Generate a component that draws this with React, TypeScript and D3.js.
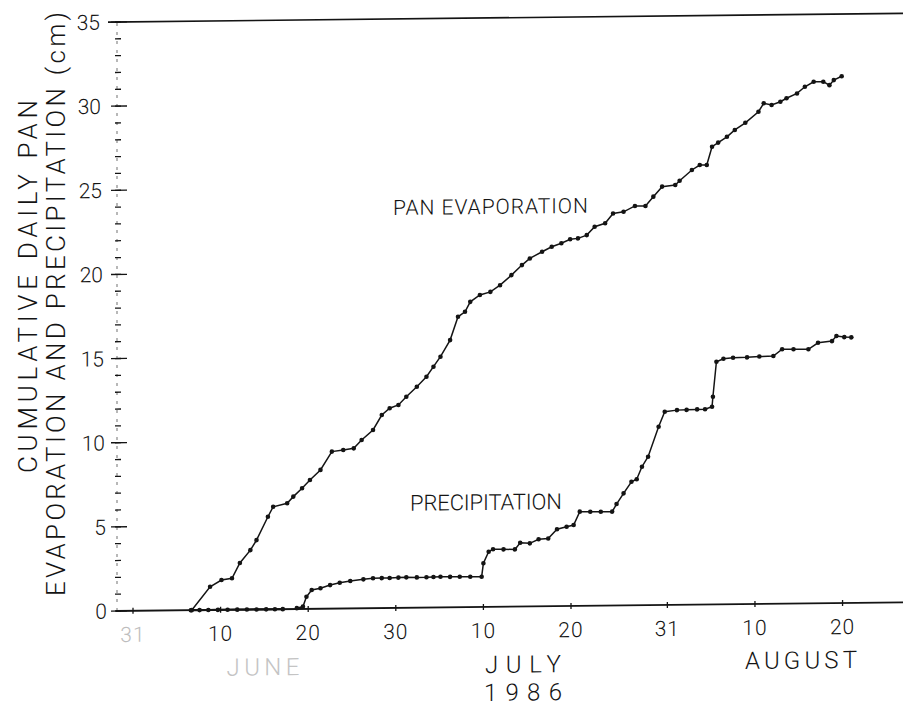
import React from "react";
import * as d3 from "d3";

// ---- data (day 0 = May 31, 1986) ----
const xTickDays = [0, 10, 20, 30, 40, 50, 61, 71, 81];
const xTickLabels = ["31", "10", "20", "30", "10", "20", "31", "10", "20"];
const yTicks = [0, 5, 10, 15, 20, 25, 30, 35];
const yMinorTicks = d3.range(0, 36, 1);

const panDays = [6.7, 8.8, 10.1, 11.3, 12.2, 13.4, 14.1, 15.4, 16.0, 17.6, 18.3, 19.3, 20.2, 21.4, 22.7, 24.0, 25.2, 26.1, 27.4, 28.4, 29.3, 30.3, 31.2, 32.4, 33.5, 34.3, 35.1, 36.2, 37.1, 37.9, 38.5, 39.6, 40.8, 41.9, 43.2, 44.4, 45.3, 46.7, 47.8, 48.9, 49.9, 50.8, 51.8, 52.7, 53.9, 54.8, 56.0, 57.3, 58.5, 59.4, 60.4, 61.9, 62.4, 63.8, 64.7, 65.5, 66.1, 66.8, 67.8, 68.7, 69.9, 71.4, 72.0, 72.9, 73.9, 74.6, 75.8, 76.7, 77.7, 78.8, 79.5, 80.0, 80.9];
const panValues = [0, 1.38, 1.77, 1.87, 2.77, 3.53, 4.12, 5.5, 6.09, 6.29, 6.68, 7.17, 7.66, 8.25, 9.33, 9.42, 9.51, 10.0, 10.59, 11.47, 11.87, 12.06, 12.54, 13.13, 13.72, 14.31, 14.9, 15.88, 17.26, 17.55, 18.14, 18.54, 18.72, 19.11, 19.7, 20.29, 20.68, 21.07, 21.36, 21.56, 21.79, 21.84, 22.03, 22.52, 22.72, 23.3, 23.39, 23.73, 23.72, 24.27, 24.86, 24.95, 25.2, 25.83, 26.12, 26.12, 27.2, 27.44, 27.78, 28.18, 28.6, 29.25, 29.75, 29.64, 29.83, 30.03, 30.31, 30.7, 30.99, 30.99, 30.78, 31.08, 31.3];

const precipZeroDays = [6.6, 7.6, 8.6, 9.7, 10.8, 11.9, 13.0, 14.1, 15.2, 16.2, 17.1];
const precipZeroValues = [0, 0, 0, 0, 0, 0, 0, 0, 0, 0, 0];

const precipDays = [18.7, 19.4, 19.8, 20.4, 21.4, 22.5, 23.6, 24.8, 26.3, 27.4, 28.4, 29.3, 30.3, 31.2, 32.4, 33.5, 34.3, 35.1, 36.2, 37.3, 38.5, 39.8, 40.0, 40.6, 41.1, 42.3, 43.6, 44.2, 45.3, 46.3, 47.4, 48.4, 49.5, 50.3, 51.0, 52.2, 53.4, 54.7, 55.2, 56.0, 56.9, 57.5, 58.1, 58.8, 60.0, 60.7, 62.1, 63.2, 64.4, 65.3, 66.1, 66.2, 66.6, 67.4, 68.5, 70.1, 71.5, 73.1, 74.1, 75.4, 77.1, 78.2, 79.8, 80.3, 81.2, 82.0];
const precipValues = [0.05, 0.14, 0.72, 1.12, 1.22, 1.4, 1.53, 1.63, 1.72, 1.78, 1.78, 1.78, 1.8, 1.81, 1.8, 1.8, 1.81, 1.82, 1.81, 1.81, 1.8, 1.8, 2.6, 3.28, 3.42, 3.41, 3.4, 3.79, 3.75, 3.99, 4.03, 4.57, 4.71, 4.81, 5.6, 5.59, 5.58, 5.58, 6.03, 6.66, 7.34, 7.49, 8.23, 8.82, 10.59, 11.48, 11.57, 11.58, 11.6, 11.6, 11.75, 12.34, 14.42, 14.59, 14.65, 14.66, 14.7, 14.72, 15.12, 15.11, 15.1, 15.48, 15.57, 15.87, 15.8, 15.78];

const monthLabels = ["JUNE", "JULY", "AUGUST"];
const yearLabel = "1986";
const yTitle1 = "CUMULATIVE DAILY PAN";
const yTitle2 = "EVAPORATION AND PRECIPITATION (cm)";
const panLabel = "PAN EVAPORATION";
const precipLabel = "PRECIPITATION";

const W = 903;
const H = 706;
const X0 = 116;
const Y0 = 611;
const FONT = "Roboto, 'Liberation Sans', Arial, sans-serif";
const INK = "#141414";
const TEXT_WEIGHT = 300;

export default function App() {
  const x = d3.scaleLinear().domain([0, 81]).range([133, 133 + 81 * 8.76]);
  const y = d3.scaleLinear().domain([0, 35]).range([Y0, 22]);

  const line = d3
    .line<[number, number]>()
    .x((d) => x(d[0]))
    .y((d) => y(d[1]));

  const pan: [number, number][] = panDays.map((d, i) => [d, panValues[i]]);
  const pz: [number, number][] = precipZeroDays.map((d, i) => [d, precipZeroValues[i]]);
  const pr: [number, number][] = precipDays.map((d, i) => [d, precipValues[i]]);

  const skew = `translate(${X0},${Y0}) skewY(-0.63) translate(${-X0},${-Y0})`;

  return (
    <svg
      width={W}
      height={H}
      style={{ position: "absolute", left: 0, top: 0, background: "#fff" }}
      fontFamily={FONT}
      fontWeight={TEXT_WEIGHT}
    >
      <rect x={0} y={0} width={W} height={H} fill="#fff" />
      {/* Y axis title */}
      <text
        transform={`translate(37,286.5) rotate(-90)`}
        textAnchor="middle"
        fontSize={26}
        fill={INK}
        textLength={373}
        lengthAdjust="spacing"
      >
        {yTitle1}
      </text>
      <text
        transform={`translate(65,304) rotate(-90)`}
        textAnchor="middle"
        fontSize={26}
        fill={INK}
        textLength={584}
        lengthAdjust="spacing"
      >
        {yTitle2}
      </text>

      <g transform={skew}>
        {/* top frame line at 35 */}
        <line x1={X0 - 8} x2={W + 20} y1={y(35)} y2={y(35)} stroke={INK} strokeWidth={1.6} />
        {/* y axis */}
        <line x1={X0 + 1} x2={X0 + 1} y1={y(0)} y2={y(35)} stroke={INK} strokeWidth={1} strokeDasharray="3 6" opacity={0.6} />
        {yMinorTicks.map((v) => (
          <line
            key={"m" + v}
            x1={X0 - 1}
            x2={X0 + 5}
            y1={y(v)}
            y2={y(v)}
            stroke={INK}
            strokeWidth={1.3}
          />
        ))}
        {yTicks.map((v) => (
          <g key={"t" + v}>
            <line x1={X0 - 5} x2={X0 + 11} y1={y(v)} y2={y(v)} stroke={INK} strokeWidth={1.3} />
            <text
              x={107 - (7 * v) / 35}
              y={y(v)}
              dy="0.36em"
              textAnchor="end"
              fontSize={21}
              fill={INK}
            >
              {v}
            </text>
          </g>
        ))}

        {/* x axis */}
        <line x1={X0} x2={W + 20} y1={y(0)} y2={y(0)} stroke={INK} strokeWidth={1.8} />
        {xTickDays.map((d, i) => (
          <g key={"x" + i}>
            <line x1={x(d)} x2={x(d)} y1={y(0) - 3} y2={y(0) + 3} stroke={INK} strokeWidth={1.3} />
            <text
              x={x(d)}
              y={642}
              textAnchor="middle"
              fontSize={21}
              letterSpacing={1}
              fill={i === 0 ? "#bdbdbd" : INK}
            >
              {xTickLabels[i]}
            </text>
          </g>
        ))}
        <text x={263} y={677} textAnchor="middle" fontSize={24} fill="#c4c4c4" textLength={73} lengthAdjust="spacing">
          {monthLabels[0]}
        </text>
        <text x={523} y={677} textAnchor="middle" fontSize={24} fill={INK} textLength={76} lengthAdjust="spacing">
          {monthLabels[1]}
        </text>
        <text x={801} y={676} textAnchor="middle" fontSize={24} fill={INK} textLength={112} lengthAdjust="spacing">
          {monthLabels[2]}
        </text>
        <text x={523} y={705} textAnchor="middle" fontSize={24} fill={INK} textLength={78} lengthAdjust="spacing">
          {yearLabel}
        </text>

        {/* series */}
        <path d={line(pan) || ""} fill="none" stroke={INK} strokeWidth={1.5} />
        <path d={line(pz) || ""} fill="none" stroke={INK} strokeWidth={2.2} />
        <path d={line(pr) || ""} fill="none" stroke={INK} strokeWidth={1.5} />
        {[...pan, ...pz, ...pr].map((p, i) => (
          <circle key={"c" + i} cx={x(p[0])} cy={y(p[1])} r={2.3} fill={INK} />
        ))}

        {/* annotations */}
        <text x={393} y={218} fontSize={21} fill={INK} textLength={195} lengthAdjust="spacing">
          {panLabel}
        </text>
        <text x={410} y={514} fontSize={22} fill={INK} textLength={152} lengthAdjust="spacing">
          {precipLabel}
        </text>
      </g>
    </svg>
  );
}
